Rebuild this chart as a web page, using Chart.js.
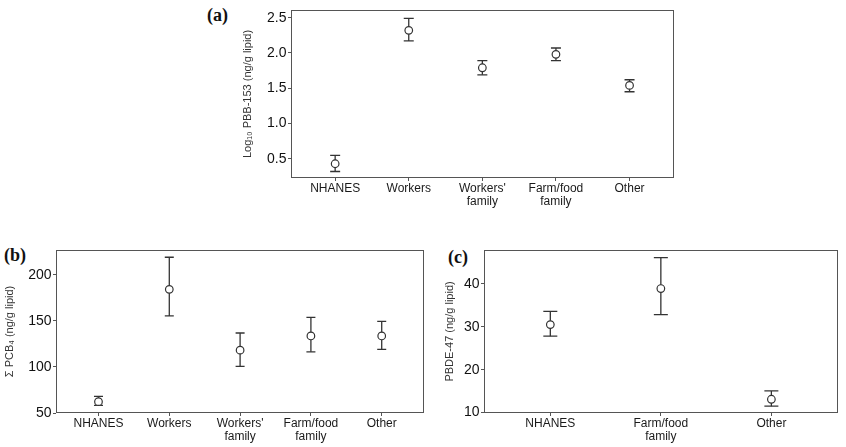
<!DOCTYPE html>
<html>
<head>
<meta charset="utf-8">
<script src="https://cdn.jsdelivr.net/npm/chart.js@4.4.0/dist/chart.umd.min.js"></script>
<style>
  body { margin: 0; background: #fff; width: 846px; height: 447px; position: relative; overflow: hidden; }
  .panel { position: absolute; }
  .tag { position: absolute; font: bold 18px "Liberation Serif", "Times New Roman", serif; color: #111; line-height: 18px; }
</style>
</head>
<body>
<div class="tag" style="left:207px; top:6px;">(a)</div>
<div class="tag" style="left:4px; top:246px;">(b)</div>
<div class="tag" style="left:448px; top:248px;">(c)</div>

<div class="panel" style="left:236px; top:0px; width:444px; height:215px;"><canvas id="chartA"></canvas></div>
<div class="panel" style="left:0px; top:240px; width:430px; height:205px;"><canvas id="chartB"></canvas></div>
<div class="panel" style="left:440px; top:240px; width:406px; height:205px;"><canvas id="chartC"></canvas></div>

<script>
// panel (a) - Log10 PBB-153
var catsA = ['NHANES', 'Workers', ["Workers'", 'family'], ['Farm/food', 'family'], 'Other'];
var meanA = [0.43, 2.32, 1.79, 1.98, 1.54];
var lowA  = [0.32, 2.17, 1.69, 1.89, 1.45];
var highA = [0.55, 2.49, 1.89, 2.07, 1.62];
var ticksA = [0.5, 1.0, 1.5, 2.0, 2.5];

// panel (b) - sum PCB4
var catsB = ['NHANES', 'Workers', ["Workers'", 'family'], ['Farm/food', 'family'], 'Other'];
var meanB = [62.3, 184.2, 118.2, 133.6, 133.6];
var lowB  = [58.3, 155.4, 100.5, 116.4, 119.0];
var highB = [68.0, 219.0, 136.8, 153.7, 149.4];
var ticksB = [50, 100, 150, 200];

// panel (c) - PBDE-47
var catsC = ['NHANES', ['Farm/food', 'family'], 'Other'];
var meanC = [30.5, 38.9, 13.1];
var lowC  = [27.8, 32.8, 11.5];
var highC = [33.6, 46.1, 15.05];
var ticksC = [10, 20, 30, 40];

var FONT = '"Liberation Sans", Arial, sans-serif';
var INK = '#333';
var AXIS = '#555';

// full box around the plot area like ggplot theme_bw
const boxPlugin = {
  id: 'box',
  afterDraw(chart) {
    const a = chart.chartArea, c = chart.ctx;
    c.save();
    c.strokeStyle = AXIS;
    c.lineWidth = 1;
    c.strokeRect(Math.round(a.left) + 0.5, Math.round(a.top) + 0.5,
                 Math.round(a.right - a.left) - 1, Math.round(a.bottom - a.top) - 1);
    c.restore();
  }
};

function makePanel(id, cats, mean, low, high, yTicks, o) {
  let means = mean.map((v, i) => ({x: i + 1, y: v}));
  let bars = [];
  low.forEach((v, i) => {
    bars.push({x: i + 1, y: v}, {x: i + 1, y: high[i]}, {x: i + 1, y: null});
  });
  return new Chart(document.getElementById(id), {
    type: 'scatter',
    data: {
      datasets: [
        {
          label: 'mean',
          data: means,
          pointStyle: 'circle',
          pointRadius: 3.8,
          pointHoverRadius: 3.8,
          borderWidth: 1.2,
          borderColor: INK,
          backgroundColor: '#fff'
        },
        {
          type: 'line',
          label: 'ci',
          data: bars,
          showLine: true,
          spanGaps: false,
          borderColor: INK,
          borderWidth: 1.3,
          pointStyle: 'line',
          pointRadius: o.cap,
          pointHoverRadius: o.cap,
          pointBorderWidth: 1.3,
          pointBorderColor: INK
        }
      ]
    },
    options: {
      responsive: true,
      maintainAspectRatio: false,
      animation: false,
      events: [],
      layout: { padding: o.pad },
      plugins: { legend: { display: false }, tooltip: { enabled: false } },
      scales: {
        x: {
          type: 'linear',
          min: 0.4,
          max: cats.length + 0.6,
          afterBuildTicks: s => { s.ticks = cats.map((c, i) => ({value: i + 1})); },
          afterFit: s => { s.height = o.xh; },
          border: { display: false },
          grid: { drawOnChartArea: false, drawTicks: true, tickLength: 3, color: AXIS },
          ticks: {
            autoSkip: false,
            maxRotation: 0,
            padding: 1.5,
            color: '#1a1a1a',
            font: { family: FONT, size: 12, lineHeight: 1.08 },
            callback: v => cats[Math.round(v) - 1]
          }
        },
        y: {
          min: o.ymin,
          max: o.ymax,
          afterBuildTicks: s => { s.ticks = yTicks.map(v => ({value: v})); },
          afterFit: s => { s.width = o.yw; },
          border: { display: false },
          grid: { drawOnChartArea: false, drawTicks: true, tickLength: 3, color: AXIS },
          ticks: {
            padding: 1.5,
            color: '#111',
            font: { family: FONT, size: o.tickSize },
            callback: v => o.dec ? v.toFixed(o.dec) : v
          },
          title: {
            display: true,
            text: o.title,
            color: '#333',
            font: { family: FONT, size: 11 },
            padding: { top: o.titlePad, bottom: 0 }
          }
        }
      }
    },
    plugins: [boxPlugin]
  });
}

makePanel('chartA', catsA, meanA, lowA, highA, ticksA, {
  pad: { top: 3, right: 6, left: 0, bottom: 0 },
  xh: 37, yw: 55, ymin: 0.228, ymax: 2.61, dec: 1, tickSize: 14,
  title: 'Log\u2081\u2080 PBB-153 (ng/g lipid)', titlePad: 5, cap: 5
});

makePanel('chartB', catsB, meanB, lowB, highB, ticksB, {
  pad: { top: 8, right: 4, left: 0, bottom: 0 },
  xh: 32, yw: 56, ymin: 50, ymax: 227, dec: 0, tickSize: 14,
  title: '\u03A3 PCB\u2084 (ng/g lipid)', titlePad: 3, cap: 4.5
});

makePanel('chartC', catsC, meanC, lowC, highC, ticksC, {
  pad: { top: 8, right: 3, left: 0, bottom: 0 },
  xh: 32, yw: 44, ymin: 9.9, ymax: 47.9, dec: 0, tickSize: 14,
  title: 'PBDE-47 (ng/g lipid)', titlePad: 3, cap: 7
});
</script>
</body>
</html>
